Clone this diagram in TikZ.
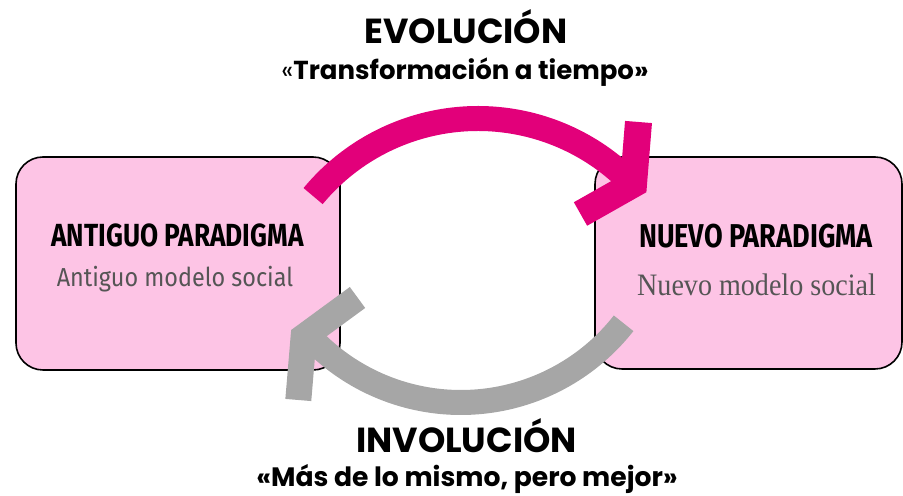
\documentclass[tikz,border=0pt]{standalone}
\usepackage{fontspec}
\setmainfont{Poppins}
\newfontfamily\headfont[FakeStretch=0.82]{Fira Sans}
\newfontfamily\modelfont[FakeStretch=0.9]{Fira Sans}
\newfontfamily\serifmodel[FakeStretch=0.9]{Liberation Serif}

\definecolor{evopink}{HTML}{E2007A}
\definecolor{invogray}{HTML}{A6A6A6}
\definecolor{boxpink}{HTML}{FDC4E5}
\definecolor{textgray}{HTML}{555555}

\tikzset{parbox/.style={draw=black,line width=0.8pt,fill=boxpink,rounded corners=13.5pt}}
\tikzset{evoband/.style={draw=evopink,line width=12.5pt}}
\tikzset{invoband/.style={draw=invogray,line width=12.5pt}}

\begin{document}
\begin{tikzpicture}[x=0.5pt,y=0.5pt]
        \useasboundingbox (0,0) rectangle (903,496);
        % draw the two boxes
        \node[parbox,minimum width=162pt,minimum height=106.5pt] (old) at (178,232.5) {};
        \node[parbox,minimum width=153.5pt,minimum height=106pt] (new) at (748.5,233) {};
        \node[anchor=base] (old title) at (177.5,249.3) {\headfont\bfseries\fontsize{16}{19}\selectfont ANTIGUO PARADIGMA};
        \node[anchor=base,text=textgray] (old text) at (175,209.3) {\modelfont\fontsize{13}{15}\selectfont Antiguo modelo social};
        \node[anchor=base] (new title) at (756,248.7) {\headfont\bfseries\fontsize{16.5}{19}\selectfont NUEVO PARADIGMA};
        \node[anchor=base,text=textgray] (new text) at (756.5,200.3) {\serifmodel\fontsize{15.6}{18}\selectfont Nuevo modelo social};
        % draw the evolution arc (clockwise, over the top)
        \coordinate (evo start) at (313.1,299.9);
        \coordinate (evo tip) at (633.5,312);
        \draw[evoband] (evo start) arc[start angle=140.4,end angle=45,radius=107pt];
        \draw[evoband,line width=13.5pt,miter limit=4] (638.5,374) -- (evo tip) -- (580.5,282);
        % draw the involution arc (clockwise, under the bottom)
        \coordinate (invo start) at (623.6,172.7);
        \coordinate (invo tip) at (303.6,159);
        \draw[invoband] (invo start) arc[start angle=-38.1,end angle=-140,radius=103.4pt];
        \draw[invoband,line width=13pt,miter limit=4] (357.5,198.5) -- (invo tip) -- (298.3,96);
        % the labels
        \node[anchor=base] (evo label) at (466,452) {\bfseries\fontsize{17.4}{20}\selectfont EVOLUCIÓN};
        \node[anchor=base] (evo sub) at (465,416) {\fontsize{13}{16}\selectfont «\bfseries Transformación a tiempo»};
        \node[anchor=base] (invo label) at (466.5,43) {\bfseries\fontsize{17.4}{20}\selectfont INVOLUCIÓN};
        \node[anchor=base] (invo sub) at (467,9) {\bfseries\fontsize{13.3}{16}\selectfont «Más de lo mismo, pero mejor»};
    \end{tikzpicture}
\end{document}
